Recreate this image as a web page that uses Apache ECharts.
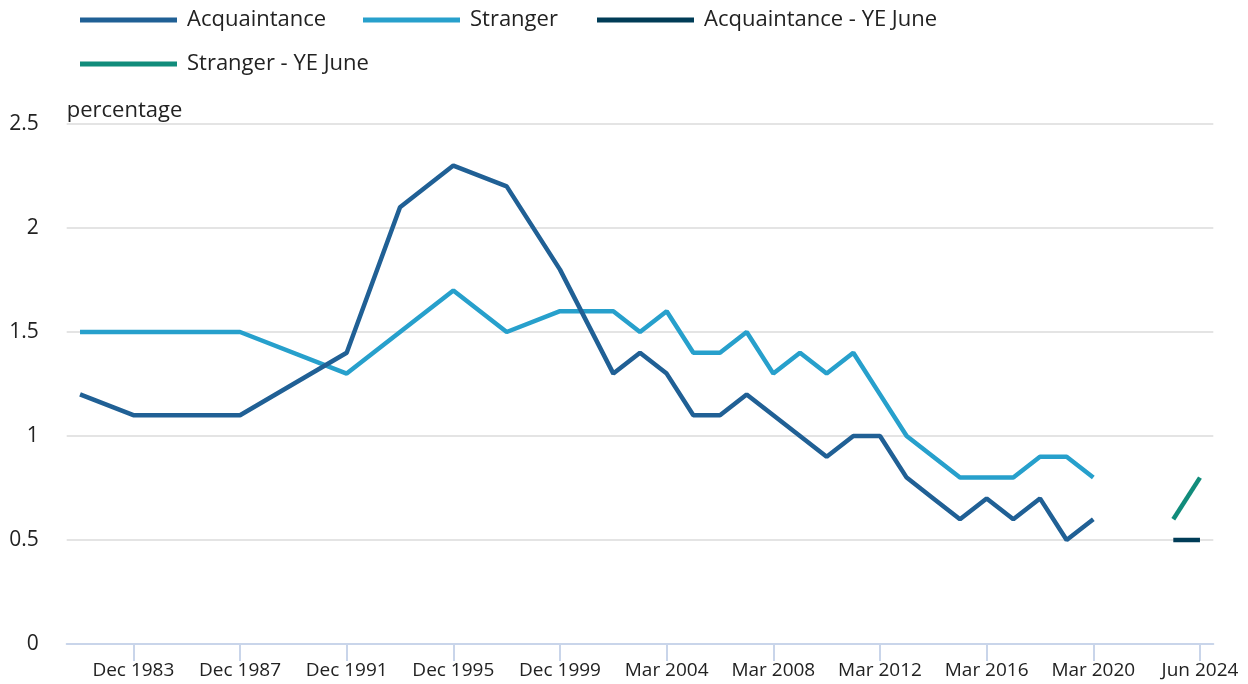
<!DOCTYPE html>
<html lang="en">
    <head>
        <meta charset="UTF-8">
        <script type="text/javascript" src="https://cdn.jsdelivr.net/npm/echarts@6/dist/echarts.min.js"></script>
        <title>Acquaintance and stranger violence</title>
        <style>
            html, body { margin: 0; padding: 0; background: #fff; }
        </style>
    </head>
    <body>
        <div id="chart" style="width: 1248px; height: 684px;"></div>
    </body>
    <script>
        // categories: one per year, survey gaps left as null
        var periods = [
            "Dec 1981", "Dec 1982", "Dec 1983", "Dec 1984", "Dec 1985", "Dec 1986", "Dec 1987",
            "Dec 1988", "Dec 1989", "Dec 1990", "Dec 1991", "Dec 1992", "Dec 1993", "Dec 1994",
            "Dec 1995", "Dec 1996", "Dec 1997", "Dec 1998", "Dec 1999", "Dec 2000",
            "Mar 2002", "Mar 2003", "Mar 2004", "Mar 2005", "Mar 2006", "Mar 2007", "Mar 2008",
            "Mar 2009", "Mar 2010", "Mar 2011", "Mar 2012", "Mar 2013", "Mar 2014", "Mar 2015",
            "Mar 2016", "Mar 2017", "Mar 2018", "Mar 2019", "Mar 2020", "Mar 2021", "Mar 2022",
            "Jun 2023", "Jun 2024"
        ];
        var acquaintance = [
            1.2, null, 1.1, null, null, null, 1.1, null, null, null, 1.4, null, 2.1, null,
            2.3, null, 2.2, null, 1.8, null,
            1.3, 1.4, 1.3, 1.1, 1.1, 1.2, 1.1, 1.0, 0.9, 1.0, 1.0, 0.8, 0.7, 0.6,
            0.7, 0.6, 0.7, 0.5, 0.6, null, null, null, null
        ];
        var stranger = [
            1.5, null, 1.5, null, null, null, 1.5, null, null, null, 1.3, null, 1.5, null,
            1.7, null, 1.5, null, 1.6, null,
            1.6, 1.5, 1.6, 1.4, 1.4, 1.5, 1.3, 1.4, 1.3, 1.4, 1.2, 1.0, 0.9, 0.8,
            0.8, 0.8, 0.9, 0.9, 0.8, null, null, null, null
        ];
        var acquaintanceJune = [];
        var strangerJune = [];
        for (var i = 0; i < periods.length; i++) {
            acquaintanceJune.push(null);
            strangerJune.push(null);
        }
        acquaintanceJune[41] = 0.5; acquaintanceJune[42] = 0.5;
        strangerJune[41] = 0.6; strangerJune[42] = 0.8;

        var yTicks = [0, 0.5, 1, 1.5, 2, 2.5];

        var font = "'Open Sans', 'Noto Sans', sans-serif";
        var colors = ["#206095", "#27a0cc", "#003c57", "#118c7b"];
        var names = ["Acquaintance", "Stranger", "Acquaintance - YE June", "Stranger - YE June"];

        // show every fourth label starting at Dec 1983
        var showEvery = function (index) { return (index - 2) % 4 === 0; };

        function legendAt(name, left, top) {
            return {
                data: [name],
                left: left,
                top: top,
                icon: "rect",
                itemWidth: 97,
                itemHeight: 5,
                itemGap: 0,
                padding: 0,
                textStyle: { fontFamily: font, fontSize: 22, color: "#222", padding: [0, 0, 0, 5] }
            };
        }

        var myCharts = echarts.init(document.getElementById("chart"));
        var option = {
            animation: false,
            color: colors,
            legend: [
                legendAt(names[0], 80, 9),
                legendAt(names[1], 363, 9),
                legendAt(names[2], 597, 9),
                legendAt(names[3], 80, 53)
            ],
            grid: { left: 66.7, right: 34.7, top: 124, bottom: 40, containLabel: false },
            xAxis: {
                type: "category",
                data: periods,
                boundaryGap: true,
                axisLine: { lineStyle: { color: "#c9d5ea", width: 2 } },
                axisTick: { show: true, alignWithLabel: true, interval: showEvery, length: 17, lineStyle: { color: "#c9d5ea", width: 2 } },
                axisLabel: { interval: showEvery, margin: 17, fontFamily: font, fontSize: 19, color: "#222" }
            },
            yAxis: {
                type: "value",
                min: yTicks[0],
                max: yTicks[yTicks.length - 1],
                interval: 0.5,
                name: "percentage",
                nameLocation: "end",
                nameGap: 2,
                nameTextStyle: { fontFamily: font, fontSize: 22, color: "#222", align: "left" },
                axisLine: { show: false },
                axisTick: { show: false },
                axisLabel: { margin: 28, fontFamily: font, fontSize: 21, color: "#222" },
                splitLine: { lineStyle: { color: "#e4e4e4", width: 2 } }
            },
            series: [
                { name: names[0], type: "line", data: acquaintance, connectNulls: true, symbol: "none", lineStyle: { width: 4.5 }, z: 3 },
                { name: names[1], type: "line", data: stranger, connectNulls: true, symbol: "none", lineStyle: { width: 4.5 }, z: 2 },
                { name: names[2], type: "line", data: acquaintanceJune, symbol: "none", lineStyle: { width: 4.5, cap: "butt" } },
                { name: names[3], type: "line", data: strangerJune, symbol: "none", lineStyle: { width: 4.5, cap: "butt" } }
            ]
        };
        myCharts.setOption(option);
    </script>
</html>
